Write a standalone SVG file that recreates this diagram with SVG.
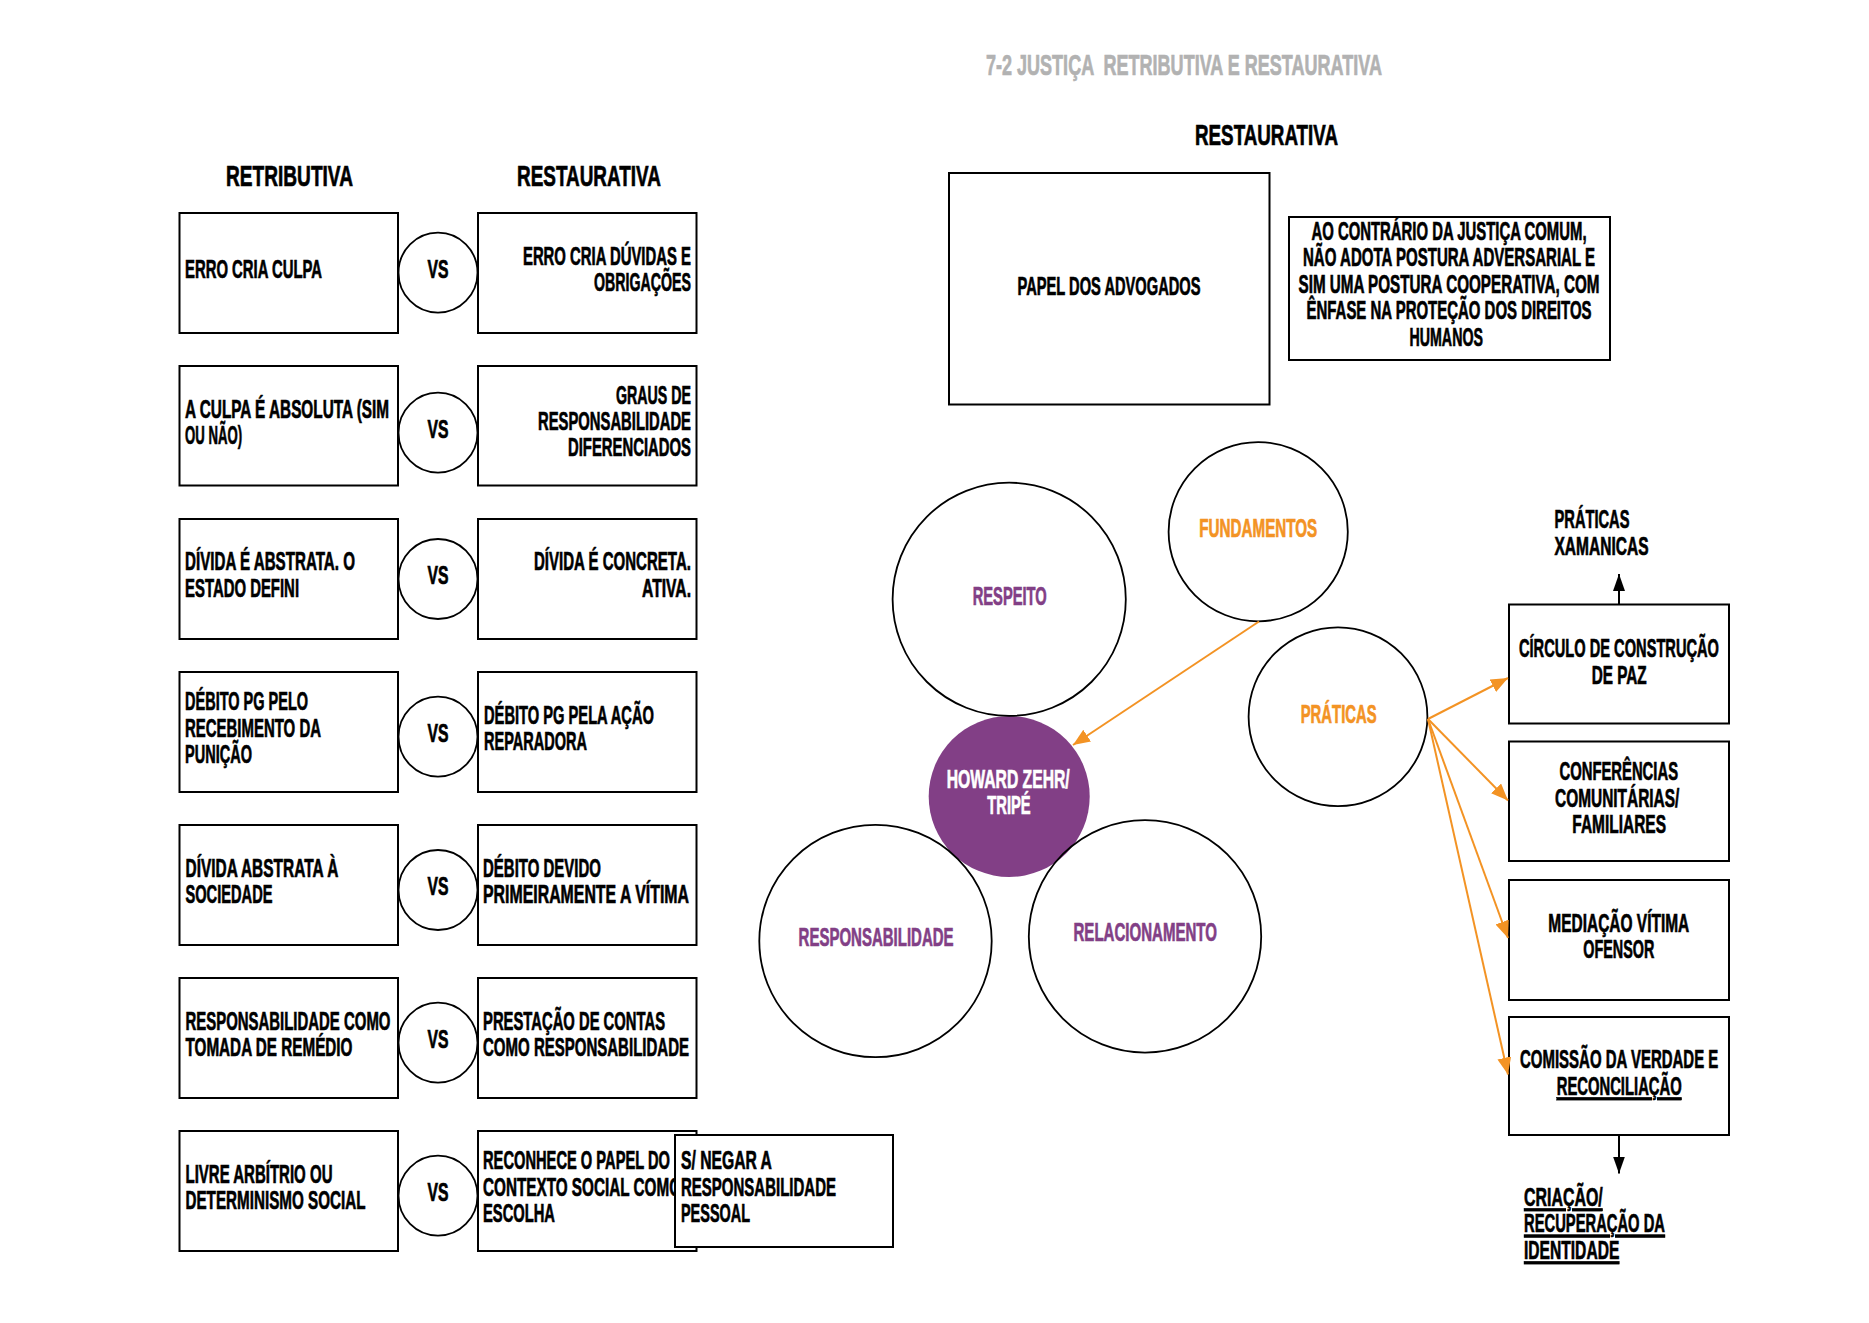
<svg xmlns="http://www.w3.org/2000/svg" width="1869" height="1323" viewBox="0 0 1869 1323">
<style>
text { font-family: "Liberation Sans", Arial, sans-serif; font-weight: bold; font-size: 26px; fill: #000; stroke: #000; stroke-width: 0.7; transform: scale(0.57, 1); transform-origin: 0 0; }
.h { font-size: 30px; }
.ttl { font-size: 29px; fill: #B2B2B2; stroke: #B2B2B2; }
.vs { font-size: 25px; }
.p { fill: #823F86; stroke: #823F86; }
.o { fill: #F39324; stroke: #F39324; }
.w { fill: #FFFFFF; stroke: #FFFFFF; }
.u { text-decoration: underline; }
.box { fill: #FFFFFF; stroke: #000; stroke-width: 2; }
.circ { fill: none; stroke: #000; stroke-width: 1.8; }
.oline { stroke: #F39324; stroke-width: 2; fill: none; }
.kline { stroke: #000; stroke-width: 2; fill: none; }
</style>
<defs>
<marker id="ao" markerUnits="userSpaceOnUse" markerWidth="18" markerHeight="14" refX="17" refY="7" orient="auto">
<path d="M0,0 L17,7 L0,14 z" fill="#F39324"/>
</marker>
<marker id="ak" markerUnits="userSpaceOnUse" markerWidth="18" markerHeight="14" refX="17" refY="7" orient="auto">
<path d="M0,1 L17,7 L0,13 z" fill="#000"/>
</marker>
</defs>
<rect width="1869" height="1323" fill="#FFFFFF"/>

<g id="titles">
<text class="ttl" x="1729.8" y="75" textLength="694.7" lengthAdjust="spacingAndGlyphs" xml:space="preserve">7-2 JUSTIÇA  RETRIBUTIVA E RESTAURATIVA</text>
<text class="h" x="396.5" y="186" textLength="222.8" lengthAdjust="spacingAndGlyphs">RETRIBUTIVA</text>
<text class="h" x="907" y="186" textLength="252.6" lengthAdjust="spacingAndGlyphs">RESTAURATIVA</text>
<text class="h" x="2096.5" y="145" textLength="250.9" lengthAdjust="spacingAndGlyphs">RESTAURATIVA</text>
</g>

<g id="row1">
<rect class="box" x="179.5" y="213" width="218.5" height="120"/>
<text x="324.6" y="278" textLength="240.4" lengthAdjust="spacingAndGlyphs">ERRO CRIA CULPA</text>
<ellipse class="circ" cx="438" cy="272.7" rx="39.5" ry="40"/>
<text class="vs" x="750" y="278.3" textLength="36.8" lengthAdjust="spacingAndGlyphs">VS</text>
<rect class="box" x="478" y="213" width="218.5" height="120"/>
<text x="917.5" y="265" textLength="294.7" lengthAdjust="spacingAndGlyphs">ERRO CRIA DÚVIDAS E</text>
<text x="1042.1" y="291" textLength="170.2" lengthAdjust="spacingAndGlyphs">OBRIGAÇÕES</text>
</g>

<g id="row2">
<rect class="box" x="179.5" y="366" width="218.5" height="119.5"/>
<text x="324.6" y="418" textLength="357.9" lengthAdjust="spacingAndGlyphs">A CULPA É ABSOLUTA (SIM</text>
<text x="324.6" y="444" textLength="100" lengthAdjust="spacingAndGlyphs">OU NÃO)</text>
<ellipse class="circ" cx="438" cy="432.7" rx="39.5" ry="40"/>
<text class="vs" x="750" y="438.3" textLength="36.8" lengthAdjust="spacingAndGlyphs">VS</text>
<rect class="box" x="478" y="366" width="218.5" height="119.5"/>
<text x="1080.7" y="404" textLength="131.6" lengthAdjust="spacingAndGlyphs">GRAUS DE</text>
<text x="943.9" y="430" textLength="268.4" lengthAdjust="spacingAndGlyphs">RESPONSABILIDADE</text>
<text x="996.5" y="456" textLength="215.8" lengthAdjust="spacingAndGlyphs">DIFERENCIADOS</text>
</g>

<g id="row3">
<rect class="box" x="179.5" y="519" width="218.5" height="120"/>
<text x="324.6" y="570" textLength="298.2" lengthAdjust="spacingAndGlyphs">DÍVIDA É ABSTRATA. O</text>
<text x="324.6" y="597" textLength="200" lengthAdjust="spacingAndGlyphs">ESTADO DEFINI</text>
<ellipse class="circ" cx="438" cy="579" rx="39.5" ry="40"/>
<text class="vs" x="750" y="584.5" textLength="36.8" lengthAdjust="spacingAndGlyphs">VS</text>
<rect class="box" x="478" y="519" width="218.5" height="120"/>
<text x="936.8" y="570" textLength="275.4" lengthAdjust="spacingAndGlyphs">DÍVIDA É CONCRETA.</text>
<text x="1126.3" y="597" textLength="86" lengthAdjust="spacingAndGlyphs">ATIVA.</text>
</g>

<g id="row4">
<rect class="box" x="179.5" y="672" width="218.5" height="120"/>
<text x="324.6" y="710" textLength="215.8" lengthAdjust="spacingAndGlyphs">DÉBITO PG PELO</text>
<text x="324.6" y="737" textLength="238.6" lengthAdjust="spacingAndGlyphs">RECEBIMENTO DA</text>
<text x="324.6" y="763" textLength="117.5" lengthAdjust="spacingAndGlyphs">PUNIÇÃO</text>
<ellipse class="circ" cx="438" cy="736.7" rx="39.5" ry="40"/>
<text class="vs" x="750" y="742" textLength="36.8" lengthAdjust="spacingAndGlyphs">VS</text>
<rect class="box" x="478" y="672" width="218.5" height="120"/>
<text x="849.1" y="724" textLength="298.2" lengthAdjust="spacingAndGlyphs">DÉBITO PG PELA AÇÃO</text>
<text x="849.1" y="750" textLength="180.7" lengthAdjust="spacingAndGlyphs">REPARADORA</text>
</g>

<g id="row5">
<rect class="box" x="179.5" y="825" width="218.5" height="120"/>
<text x="325.4" y="877" textLength="268.4" lengthAdjust="spacingAndGlyphs">DÍVIDA ABSTRATA À</text>
<text x="325.4" y="903" textLength="152.6" lengthAdjust="spacingAndGlyphs">SOCIEDADE</text>
<ellipse class="circ" cx="438" cy="890" rx="39.5" ry="40"/>
<text class="vs" x="750" y="895.5" textLength="36.8" lengthAdjust="spacingAndGlyphs">VS</text>
<rect class="box" x="478" y="825" width="218.5" height="120"/>
<text x="847.4" y="877" textLength="207" lengthAdjust="spacingAndGlyphs">DÉBITO DEVIDO</text>
<text x="847.4" y="903" textLength="361.4" lengthAdjust="spacingAndGlyphs">PRIMEIRAMENTE A VÍTIMA</text>
</g>

<g id="row6">
<rect class="box" x="179.5" y="978" width="218.5" height="120"/>
<text x="325.4" y="1030" textLength="359.6" lengthAdjust="spacingAndGlyphs">RESPONSABILIDADE COMO</text>
<text x="325.4" y="1056" textLength="293" lengthAdjust="spacingAndGlyphs">TOMADA DE REMÉDIO</text>
<ellipse class="circ" cx="438" cy="1042.7" rx="39.5" ry="40"/>
<text class="vs" x="750" y="1048.3" textLength="36.8" lengthAdjust="spacingAndGlyphs">VS</text>
<rect class="box" x="478" y="978" width="218.5" height="120"/>
<text x="847.4" y="1030" textLength="319.3" lengthAdjust="spacingAndGlyphs">PRESTAÇÃO DE CONTAS</text>
<text x="847.4" y="1056" textLength="361.4" lengthAdjust="spacingAndGlyphs">COMO RESPONSABILIDADE</text>
</g>

<g id="row7">
<rect class="box" x="179.5" y="1131" width="218.5" height="120"/>
<text x="325.4" y="1183" textLength="257.9" lengthAdjust="spacingAndGlyphs">LIVRE ARBÍTRIO OU</text>
<text x="325.4" y="1209" textLength="315.8" lengthAdjust="spacingAndGlyphs">DETERMINISMO SOCIAL</text>
<ellipse class="circ" cx="438" cy="1195.7" rx="39.5" ry="40"/>
<text class="vs" x="750" y="1200.8" textLength="36.8" lengthAdjust="spacingAndGlyphs">VS</text>
<rect class="box" x="478" y="1131" width="218.5" height="120"/>
<text x="847.4" y="1169" textLength="328.1" lengthAdjust="spacingAndGlyphs">RECONHECE O PAPEL DO</text>
<text x="847.4" y="1196" textLength="347.4" lengthAdjust="spacingAndGlyphs">CONTEXTO SOCIAL COMO</text>
<text x="847.4" y="1222" textLength="126.3" lengthAdjust="spacingAndGlyphs">ESCOLHA</text>
</g>

<g id="sem-negar">
<rect class="box" x="675" y="1135" width="218" height="112"/>
<text x="1194.7" y="1169" textLength="159.6" lengthAdjust="spacingAndGlyphs">S/ NEGAR A</text>
<text x="1194.7" y="1196" textLength="271.9" lengthAdjust="spacingAndGlyphs">RESPONSABILIDADE</text>
<text x="1194.7" y="1222" textLength="121.1" lengthAdjust="spacingAndGlyphs">PESSOAL</text>
</g>

<g id="papel-advogados">
<rect class="box" x="949" y="173" width="320.5" height="231.5"/>
<text x="1785.1" y="295" textLength="321.1" lengthAdjust="spacingAndGlyphs">PAPEL DOS ADVOGADOS</text>
</g>

<g id="ao-contrario">
<rect class="box" x="1289" y="217" width="321" height="143"/>
<text x="2300.9" y="240" textLength="482.5" lengthAdjust="spacingAndGlyphs">AO CONTRÁRIO DA JUSTIÇA COMUM,</text>
<text x="2286" y="266.5" textLength="512.3" lengthAdjust="spacingAndGlyphs">NÃO ADOTA POSTURA ADVERSARIAL E</text>
<text x="2278.1" y="293" textLength="528.1" lengthAdjust="spacingAndGlyphs">SIM UMA POSTURA COOPERATIVA, COM</text>
<text x="2292.1" y="319.5" textLength="500" lengthAdjust="spacingAndGlyphs">ÊNFASE NA PROTEÇÃO DOS DIREITOS</text>
<text x="2472.8" y="346" textLength="128.9" lengthAdjust="spacingAndGlyphs">HUMANOS</text>
</g>

<g id="howard-zehr">
<circle cx="1009.2" cy="796.5" r="80.5" fill="#823F86"/>
<text class="w" x="1660.9" y="788" textLength="215.8" lengthAdjust="spacingAndGlyphs">HOWARD ZEHR/</text>
<text class="w" x="1732.1" y="814.3" textLength="76.1" lengthAdjust="spacingAndGlyphs">TRIPÉ</text>
</g>

<g id="respeito">
<circle class="circ" cx="1009.2" cy="599.3" r="116.6"/>
<text class="p" x="1706.5" y="605" textLength="129.8" lengthAdjust="spacingAndGlyphs">RESPEITO</text>
</g>

<g id="responsabilidade">
<circle class="circ" cx="875.5" cy="941" r="116.2"/>
<text class="p" x="1401.1" y="946" textLength="271.9" lengthAdjust="spacingAndGlyphs">RESPONSABILIDADE</text>
</g>

<g id="relacionamento">
<circle class="circ" cx="1145" cy="936.4" r="116.2"/>
<text class="p" x="1883.3" y="941" textLength="251.8" lengthAdjust="spacingAndGlyphs">RELACIONAMENTO</text>
</g>

<g id="fundamentos">
<circle class="circ" cx="1258.2" cy="531.7" r="89.6"/>
<text class="o" x="2104" y="537" textLength="207" lengthAdjust="spacingAndGlyphs">FUNDAMENTOS</text>
</g>

<g id="praticas">
<circle class="circ" cx="1338" cy="716.7" r="89.4"/>
<text class="o" x="2281.9" y="722.7" textLength="133.3" lengthAdjust="spacingAndGlyphs">PRÁTICAS</text>
</g>

<g id="circulo-paz">
<rect class="box" x="1509" y="604.5" width="220" height="119"/>
<text x="2664.9" y="657" textLength="350.9" lengthAdjust="spacingAndGlyphs">CÍRCULO DE CONSTRUÇÃO</text>
<text x="2792.5" y="684" textLength="96.5" lengthAdjust="spacingAndGlyphs">DE PAZ</text>
</g>

<g id="conferencias">
<rect class="box" x="1509" y="741.5" width="220" height="119.5"/>
<text x="2736" y="780" textLength="207.9" lengthAdjust="spacingAndGlyphs">CONFERÊNCIAS</text>
<text x="2728.1" y="806.7" textLength="218.1" lengthAdjust="spacingAndGlyphs">COMUNITÁRIAS/</text>
<text x="2758.4" y="833.3" textLength="164.4" lengthAdjust="spacingAndGlyphs">FAMILIARES</text>
</g>

<g id="mediacao">
<rect class="box" x="1509" y="880" width="220" height="120"/>
<text x="2716.3" y="931.7" textLength="247.4" lengthAdjust="spacingAndGlyphs">MEDIAÇÃO VÍTIMA</text>
<text x="2777.7" y="958.3" textLength="124.6" lengthAdjust="spacingAndGlyphs">OFENSOR</text>
</g>

<g id="comissao">
<rect class="box" x="1509" y="1017" width="220" height="118"/>
<text x="2666.7" y="1068.3" textLength="347.9" lengthAdjust="spacingAndGlyphs">COMISSÃO DA VERDADE E</text>
<text class="u" x="2731.1" y="1095" textLength="219.3" lengthAdjust="spacingAndGlyphs">RECONCILIAÇÃO</text>
</g>

<g id="praticas-xamanicas">
<text x="2727.2" y="528" textLength="131.6" lengthAdjust="spacingAndGlyphs">PRÁTICAS</text>
<text x="2727.2" y="555" textLength="164.9" lengthAdjust="spacingAndGlyphs">XAMANICAS</text>
</g>

<g id="criacao-identidade">
<text class="u" x="2673.7" y="1206" textLength="138.1" lengthAdjust="spacingAndGlyphs">CRIAÇÃO/</text>
<text class="u" x="2673.7" y="1232.3" textLength="247.4" lengthAdjust="spacingAndGlyphs">RECUPERAÇÃO DA</text>
<text class="u" x="2673.7" y="1259" textLength="167.2" lengthAdjust="spacingAndGlyphs">IDENTIDADE</text>
</g>

<g id="connectors">
<line class="oline" x1="1259" y1="621.5" x2="1073" y2="745" marker-end="url(#ao)"/>
<line class="oline" x1="1428" y1="719" x2="1508" y2="678" marker-end="url(#ao)"/>
<line class="oline" x1="1428" y1="719" x2="1508" y2="800.5" marker-end="url(#ao)"/>
<line class="oline" x1="1428" y1="719" x2="1508" y2="938" marker-end="url(#ao)"/>
<line class="oline" x1="1428" y1="719" x2="1508" y2="1074.5" marker-end="url(#ao)"/>
<line class="kline" x1="1619" y1="604" x2="1619" y2="574" marker-end="url(#ak)"/>
<line class="kline" x1="1619" y1="1136" x2="1619" y2="1173.5" marker-end="url(#ak)"/>
</g>
</svg>
